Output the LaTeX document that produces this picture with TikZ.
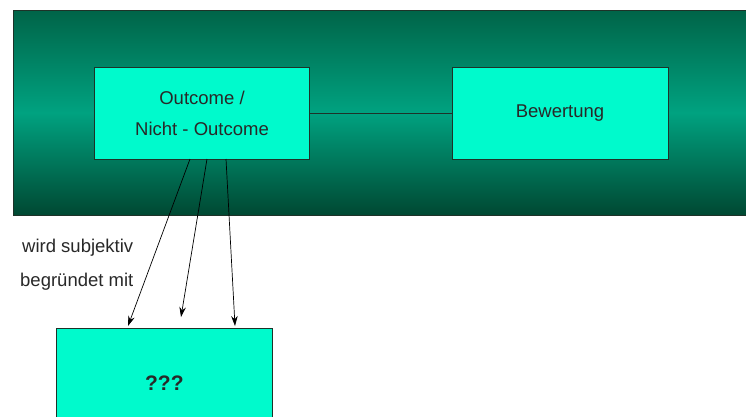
\documentclass[tikz,border=0pt]{standalone}
\usepackage{fontspec}
\setmainfont{Liberation Sans}
\usetikzlibrary{arrows.meta}
\definecolor{boxfill}{RGB}{0,250,204}
\definecolor{boxline}{RGB}{30,50,40}
\definecolor{bandtop}{RGB}{0,100,72}
\definecolor{bandmid}{RGB}{0,162,128}
\definecolor{bandbot}{RGB}{0,72,50}
\definecolor{txt}{RGB}{40,40,40}
\begin{document}
\begin{tikzpicture}[x=1pt,y=-1pt,
  greenbox/.style={draw=boxline,line width=0.8pt,fill=boxfill,text=txt,
    font=\fontsize{18.5}{31}\selectfont,align=center,inner sep=0pt},
  arr/.style={-{Stealth[length=10pt,width=6.5pt]},line width=0.7pt},
  lbl/.style={font=\fontsize{18.5}{18.5}\selectfont,text=txt,anchor=west,inner sep=0pt}]
\useasboundingbox (0,0) rectangle (746,416);
\clip (0,0) rectangle (746,416);
\shade[top color=bandtop,bottom color=bandbot,middle color=bandmid,draw=boxline,line width=0.8pt]
  (13,10) rectangle (760,215);
\node[greenbox,minimum width=215pt,minimum height=92pt] (o) at (202,113) {Outcome /\\Nicht - Outcome};
\node[greenbox,minimum width=216pt,minimum height=92pt] (b) at (560,113) {Bewertung};
\draw[boxline,line width=0.8pt] (o.east) -- (b.west);
\node[greenbox,minimum width=216pt,minimum height=110pt,anchor=north west] (q) at (56,328)
  {\bfseries\fontsize{21}{21}\selectfont ???};
\node[lbl] (l1) at (22,248) {wird subjektiv};
\node[lbl] (l2) at (20,282) {begründet mit};
\coordinate (s1) at (190,159);
\coordinate (s2) at (207,159);
\coordinate (s3) at (226,159);
\coordinate (e1) at (128,326);
\coordinate (e2) at (181,317);
\coordinate (e3) at (235,326);
\draw[arr] (s1) -- (e1);
\draw[arr] (s2) -- (e2);
\draw[arr] (s3) -- (e3);
\end{tikzpicture}
\end{document}
